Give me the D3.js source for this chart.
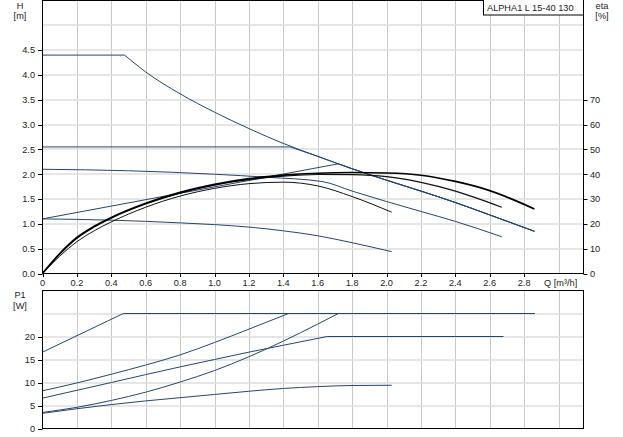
<!DOCTYPE html>
<html><head><meta charset="utf-8">
<script src="https://cdn.jsdelivr.net/npm/d3@7"></script>
<style>
html,body{margin:0;padding:0;background:#fff;}
svg{display:block;}
text{font-family:"Liberation Sans",Arial,sans-serif;font-size:9.2px;fill:#222;}
</style></head>
<body><svg id="c" width="623" height="437"></svg>
<script>
// ---------- data ----------
const qTicks = [0,0.2,0.4,0.6,0.8,1.0,1.2,1.4,1.6,1.8,2.0,2.2,2.4,2.6,2.8];
const qGrid = [0.2,0.4,0.6,0.8,1.0,1.2,1.4,1.6,1.8,2.0,2.2,2.4,2.6,2.8,3.0];
const hTicks = [0,0.5,1.0,1.5,2.0,2.5,3.0,3.5,4.0,4.5];
const hGrid = [0.5,1.0,1.5,2.0,2.5,3.0,3.5,4.0,4.5,5.0];
const etaTicks = [0,10,20,30,40,50,60,70];
const pTicks = [0,5,10,15,20];
const pGrid = [5,10,15,20,25];

// head curves [Q m3/h, H m]
const hMaxQ = [0,0.477,0.6,0.8,1.0,1.2,1.4,1.6,1.8,2.0,2.2,2.4,2.6,2.86];
const hMaxH = [4.4,4.4,4.06,3.62,3.25,2.92,2.62,2.36,2.11,1.88,1.66,1.43,1.18,0.85];
const hCPQ = [0,1.44,1.6,1.8,2.0,2.2,2.4,2.6,2.86];
const hCPH = [2.55,2.55,2.36,2.11,1.88,1.66,1.43,1.18,0.85];
const hPPQ = [0,1.72,1.8,2.0,2.2,2.4,2.6,2.86];
const hPPH = [1.1,2.21,2.11,1.88,1.66,1.43,1.18,0.85];
const hMidQ = [0,0.5,1.0,1.3,1.63,1.8,2.0,2.2,2.4,2.67];
const hMidH = [2.1,2.07,2.0,1.94,1.85,1.66,1.45,1.25,1.05,0.74];
const hLowQ = [0,0.4,0.8,1.0,1.2,1.4,1.6,1.8,2.03];
const hLowH = [1.1,1.075,1.02,0.985,0.935,0.86,0.76,0.62,0.44];

// efficiency curves [Q, eta %]
const etaAQ = [0,0.1,0.2,0.3,0.4,0.6,0.8,1.0,1.2,1.4,1.6,1.8,2.0,2.2,2.4,2.6,2.86];
const etaAV = [0,8,14.5,19,22.6,28.3,32.7,35.9,38.2,39.6,40.4,40.7,40.5,39.6,37.1,33.4,26];
const etaBQ = [0,0.1,0.2,0.3,0.4,0.6,0.8,1.0,1.2,1.4,1.6,1.8,2.0,2.2,2.4,2.67];
const etaBV = [0,7.8,14.2,18.7,22.3,28,32.4,35.6,37.8,39.2,39.9,39.8,39,36.7,33.2,26.7];
const etaCQ = [0,0.1,0.2,0.3,0.4,0.6,0.8,1.0,1.2,1.4,1.6,1.8,2.03];
const etaCV = [0,7,12.8,17.2,20.8,26.7,31.2,34.3,36.2,36.8,35.3,31,24.7];

// power curves [Q, P1 W]
const pMaxQ = [0,0.47,2.86];
const pMaxV = [16.6,25,25];
const pCPQ = [0,0.2,0.4,0.6,0.8,1.0,1.2,1.43,2.86];
const pCPV = [8.2,9.9,11.8,13.8,16.0,18.7,21.6,25,25];
const pMidQ = [0,0.4,0.8,1.0,1.2,1.4,1.655,2.68];
const pMidV = [6.6,10.0,13.4,15.0,16.6,18.1,20,20];
const pPPQ = [0,0.2,0.4,0.6,0.8,1.0,1.2,1.4,1.6,1.72,2.86];
const pPPV = [3.5,4.6,6.1,7.9,10.1,12.6,15.6,19.0,22.7,25,25];
const pLowQ = [0,0.2,0.4,0.6,0.8,1.0,1.2,1.4,1.6,1.8,2.03];
const pLowV = [3.3,4.3,5.2,6.0,6.7,7.4,8.1,8.7,9.1,9.35,9.4];

const title = "ALPHA1 L 15-40 130";

// ---------- drawing ----------
const svg = d3.select("#c");
const X0 = 42.5, X1 = 583.5;
const x = d3.scaleLinear().domain([0, 3.145]).range([X0, X1]);
const yH = d3.scaleLinear().domain([0, 5.5]).range([273.5, 0.5]);
const yE = d3.scaleLinear().domain([0, 110]).range([273.5, 0.5]);
const yP = d3.scaleLinear().domain([0, 30]).range([428.5, 290.5]);

const blue = "#25466e";
const gridV = "#c6cacf", gridH = "#dedede";

function grid(yScale, hVals, yTop, yBot) {
  const g = svg.append("g");
  g.selectAll(".v").data(qGrid).join("line")
    .attr("x1", d => Math.round(x(d)) + 0.5).attr("x2", d => Math.round(x(d)) + 0.5)
    .attr("y1", yTop).attr("y2", yBot).attr("stroke", gridV).attr("stroke-width", 1);
  g.selectAll(".h").data(hVals).join("line")
    .attr("x1", X0).attr("x2", X1)
    .attr("y1", d => Math.round(yScale(d))).attr("y2", d => Math.round(yScale(d)))
    .attr("stroke", gridH).attr("stroke-width", 1.6);
}
grid(yH, hGrid, 0.5, 273.5);
grid(yP, pGrid, 290.5, 428.5);

// smooth line that keeps sharp corners at given break Qs
function pathFor(qs, vs, yScale, breaks) {
  const pts = qs.map((q, i) => [q, vs[i]]);
  const segs = [];
  let cur = [];
  pts.forEach(p => {
    cur.push(p);
    if (breaks.includes(p[0]) && cur.length > 1) { segs.push(cur); cur = [p]; }
  });
  if (cur.length > 1) segs.push(cur);
  const ln = d3.line().x(d => x(d[0])).y(d => yScale(d[1])).curve(d3.curveMonotoneX);
  return segs.map(s => ln(s)).join("");
}
function draw(qs, vs, yScale, breaks, color, w) {
  svg.append("path").attr("d", pathFor(qs, vs, yScale, breaks))
    .attr("fill", "none").attr("stroke", color).attr("stroke-width", w)
    .attr("stroke-linejoin", "round");
}

// head curves
draw(hMaxQ, hMaxH, yH, [0.477], blue, 1);
draw(hCPQ, hCPH, yH, [1.44], blue, 1);
draw(hPPQ, hPPH, yH, [1.72], blue, 1);
draw(hMidQ, hMidH, yH, [], blue, 1);
draw(hLowQ, hLowH, yH, [], blue, 1);
// efficiency
draw(etaCQ, etaCV, yE, [], "#111", 1);
draw(etaBQ, etaBV, yE, [], "#111", 1.2);
draw(etaAQ, etaAV, yE, [], "#000", 1.7);
// power
draw(pMaxQ, pMaxV, yP, [0.47], blue, 1);
draw(pCPQ, pCPV, yP, [1.43], blue, 1);
draw(pMidQ, pMidV, yP, [1.655], blue, 1);
draw(pPPQ, pPPV, yP, [1.72], blue, 1);
draw(pLowQ, pLowV, yP, [], blue, 1);

// frames / axes
svg.append("rect").attr("x", X0).attr("y", 0.5).attr("width", X1 - X0).attr("height", 273)
  .attr("fill", "none").attr("stroke", "#000").attr("stroke-width", 1);
svg.append("rect").attr("x", X0).attr("y", 290.5).attr("width", X1 - X0).attr("height", 138)
  .attr("fill", "none").attr("stroke", "#000").attr("stroke-width", 1);

// left H axis
const gH = svg.append("g");
gH.selectAll("line").data(hTicks).join("line")
  .attr("x1", 38).attr("x2", X0).attr("y1", d => Math.round(yH(d)) + 0.5).attr("y2", d => Math.round(yH(d)) + 0.5)
  .attr("stroke", "#000");
gH.selectAll("text").data(hTicks).join("text")
  .attr("x", 35).attr("y", d => yH(d) + 3.3).attr("text-anchor", "end")
  .text(d => d3.format(".1f")(d));
// right eta axis
const gE = svg.append("g");
gE.selectAll("line").data(etaTicks).join("line")
  .attr("x1", X1).attr("x2", X1 + 4).attr("y1", d => Math.round(yE(d)) + 0.5).attr("y2", d => Math.round(yE(d)) + 0.5)
  .attr("stroke", "#000");
gE.selectAll("text").data(etaTicks).join("text")
  .attr("x", 590).attr("y", d => yE(d) + 3.3).attr("text-anchor", "start")
  .text(d => d);
// bottom Q axis of top chart
const gQ = svg.append("g");
gQ.selectAll("line").data(qTicks).join("line")
  .attr("x1", d => Math.round(x(d)) + 0.5).attr("x2", d => Math.round(x(d)) + 0.5)
  .attr("y1", 273.5).attr("y2", 277).attr("stroke", "#000");
gQ.selectAll("text").data(qTicks).join("text")
  .attr("x", d => x(d)).attr("y", 285.5).attr("text-anchor", "middle")
  .text(d => d === 0 ? "0" : d3.format(".1f")(d));
svg.append("text").attr("x", 544).attr("y", 285.5).text("Q [m³/h]");
// P1 axis
const gP = svg.append("g");
gP.selectAll("line").data(pTicks).join("line")
  .attr("x1", 38).attr("x2", X0).attr("y1", d => Math.round(yP(d)) + 0.5).attr("y2", d => Math.round(yP(d)) + 0.5)
  .attr("stroke", "#000");
gP.selectAll("text").data(pTicks).join("text")
  .attr("x", 35).attr("y", d => yP(d) + 3.3).attr("text-anchor", "end")
  .text(d => d);

// axis titles
svg.append("text").attr("x", 20).attr("y", 8.5).attr("text-anchor", "middle").text("H");
svg.append("text").attr("x", 20).attr("y", 18.5).attr("text-anchor", "middle").text("[m]");
svg.append("text").attr("x", 602).attr("y", 8.5).attr("text-anchor", "middle").text("eta");
svg.append("text").attr("x", 602).attr("y", 18.5).attr("text-anchor", "middle").text("[%]");
svg.append("text").attr("x", 20).attr("y", 298).attr("text-anchor", "middle").text("P1");
svg.append("text").attr("x", 20).attr("y", 308.5).attr("text-anchor", "middle").text("[W]");

// title box
svg.append("rect").attr("x", 483.5).attr("y", -0.5).attr("width", 100).attr("height", 15.5)
  .attr("fill", "#fff").attr("stroke", "#000");
svg.append("text").attr("x", 487).attr("y", 10.5).text(title);
</script></body></html>
